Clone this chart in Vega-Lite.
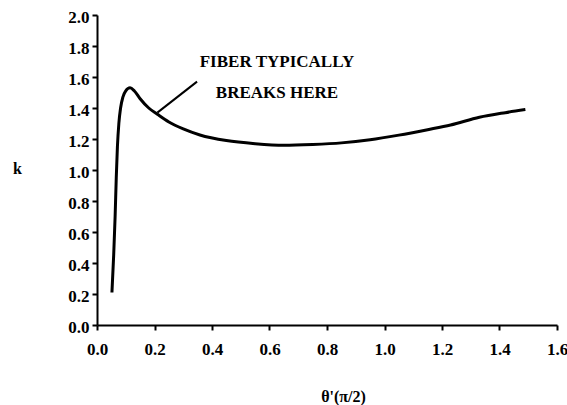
{
  "$schema": "https://vega.github.io/schema/vega-lite/v6.json",
  "autosize": "none",
  "width": 460,
  "height": 310,
  "padding": {"left": 97, "top": 15, "right": 10, "bottom": 80},
  "background": "white",
  "config": {"view": {"stroke": null}, "font": "Liberation Serif"},
  "datasets": {
    "curve": [
      {"theta": 0.052, "k": 0.21},
      {"theta": 0.058, "k": 0.45},
      {"theta": 0.063, "k": 0.7},
      {"theta": 0.067, "k": 0.95},
      {"theta": 0.071, "k": 1.15},
      {"theta": 0.076, "k": 1.3},
      {"theta": 0.082, "k": 1.4},
      {"theta": 0.09, "k": 1.47},
      {"theta": 0.1, "k": 1.51},
      {"theta": 0.115, "k": 1.53},
      {"theta": 0.13, "k": 1.51},
      {"theta": 0.15, "k": 1.46},
      {"theta": 0.18, "k": 1.4},
      {"theta": 0.21, "k": 1.36},
      {"theta": 0.25, "k": 1.31},
      {"theta": 0.3, "k": 1.265},
      {"theta": 0.358, "k": 1.226},
      {"theta": 0.45, "k": 1.19},
      {"theta": 0.55, "k": 1.17},
      {"theta": 0.65, "k": 1.16},
      {"theta": 0.75, "k": 1.165},
      {"theta": 0.85, "k": 1.175},
      {"theta": 0.95, "k": 1.195},
      {"theta": 1.05, "k": 1.225},
      {"theta": 1.15, "k": 1.26},
      {"theta": 1.23, "k": 1.29},
      {"theta": 1.33, "k": 1.34},
      {"theta": 1.42, "k": 1.37},
      {"theta": 1.49, "k": 1.39}
    ],
    "pointer": [
      {"theta": 0.21, "k": 1.37},
      {"theta": 0.348, "k": 1.57}
    ],
    "labels": [
      {"theta": 0.626, "k": 1.70, "text": "FIBER TYPICALLY"},
      {"theta": 0.626, "k": 1.50, "text": "BREAKS HERE"}
    ]
  },
  "encoding": {
    "x": {
      "field": "theta", "type": "quantitative",
      "scale": {"domain": [0, 1.6], "nice": false, "zero": false},
      "axis": {
        "title": "θ'(π/2)", "values": [0, 0.2, 0.4, 0.6, 0.8, 1.0, 1.2, 1.4, 1.6],
        "format": ".1f", "grid": false, "domainColor": "black", "domainWidth": 2,
        "tickColor": "black", "tickWidth": 2, "tickSize": 5,
        "labelFlush": false, "labelOverlap": false,
        "labelFont": "Liberation Serif", "labelFontWeight": "bold", "labelFontSize": 17, "labelColor": "black", "labelPadding": 11,
        "titleFont": "Liberation Serif", "titleFontWeight": "bold", "titleFontSize": 16, "titleColor": "black",
        "titleX": 246, "titleY": 71, "titleAlign": "center", "titleBaseline": "middle"
      }
    },
    "y": {
      "field": "k", "type": "quantitative",
      "scale": {"domain": [0, 2.0], "nice": false},
      "axis": {
        "title": "k", "values": [0, 0.2, 0.4, 0.6, 0.8, 1.0, 1.2, 1.4, 1.6, 1.8, 2.0],
        "format": ".1f", "grid": false, "domainColor": "black", "domainWidth": 2,
        "tickColor": "black", "tickWidth": 2, "tickSize": 5,
        "labelFlush": false, "labelOverlap": false, "labelOffset": 2,
        "labelFont": "Liberation Serif", "labelFontWeight": "bold", "labelFontSize": 17, "labelColor": "black", "labelPadding": 3,
        "titleFont": "Liberation Serif", "titleFontWeight": "bold", "titleFontSize": 16, "titleColor": "black",
        "titleAngle": 0, "titleX": -80, "titleY": 153, "titleAlign": "center", "titleBaseline": "middle"
      }
    }
  },
  "layer": [
    {
      "data": {"name": "curve"},
      "mark": {"type": "line", "color": "black", "strokeWidth": 3, "interpolate": "monotone"}
    },
    {
      "data": {"name": "pointer"},
      "mark": {"type": "line", "color": "black", "strokeWidth": 2}
    },
    {
      "data": {"name": "labels"},
      "mark": {"type": "text", "font": "Liberation Serif", "fontWeight": "bold", "fontSize": 17, "color": "black", "align": "center", "baseline": "middle"},
      "encoding": {"text": {"field": "text"}}
    }
  ]
}
